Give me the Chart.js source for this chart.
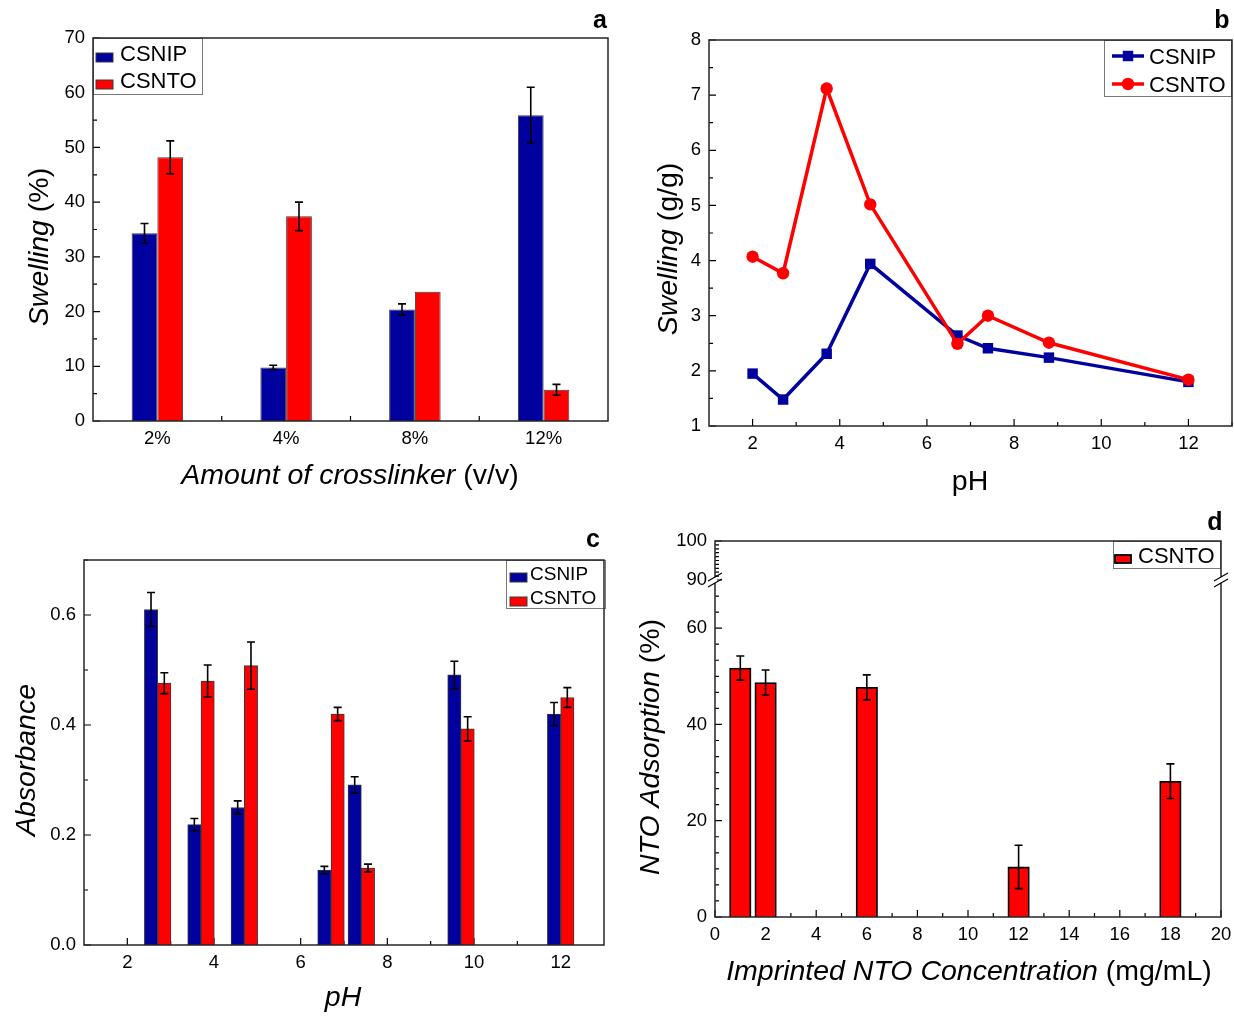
<!DOCTYPE html>
<html>
<head>
<meta charset="utf-8">
<script src="https://cdn.jsdelivr.net/npm/chart.js@4.4.1/dist/chart.umd.min.js"></script>
<style>
  body { margin: 0; background: #fff; }
  #page { position: relative; width: 1234px; height: 1019px; }
  canvas { position: absolute; }
</style>
</head>
<body>
<div id="page">
  <canvas id="chartA" width="617" height="509" style="left:0;top:0"></canvas>
  <canvas id="chartB" width="617" height="509" style="left:617px;top:0"></canvas>
  <canvas id="chartC" width="617" height="510" style="left:0;top:509px"></canvas>
  <canvas id="chartD" width="617" height="510" style="left:617px;top:509px"></canvas>
</div>
<script>
// (a) swelling vs amount of crosslinker
const crosslinker = ['2%', '4%', '8%', '12%'];
const swellNip = [34.3, 9.8, 20.4, 55.9];
const swellNipErr = [1.8, 0.4, 1.0, 5.1];
const swellNto = [48.2, 37.4, 23.6, 5.7];
const swellNtoErr = [3.0, 2.6, null, 1.0];

// (b) swelling vs pH
const phB = [2, 2.7, 3.7, 4.7, 6.7, 7.4, 8.8, 12];
const gNip = [1.95, 1.48, 2.31, 3.94, 2.64, 2.41, 2.24, 1.80];
const gNto = [4.07, 3.77, 7.12, 5.02, 2.49, 3.00, 2.51, 1.84];

// (c) absorbance vs pH
const phC = [2.7, 3.7, 4.7, 6.7, 7.4, 9.7, 12];
const absNip = [0.610, 0.219, 0.250, 0.136, 0.291, 0.491, 0.420];
const absNipErr = [0.031, 0.011, 0.012, 0.007, 0.015, 0.025, 0.021];
const absNto = [0.476, 0.480, 0.508, 0.420, 0.140, 0.393, 0.450];
const absNtoErr = [0.019, 0.029, 0.043, 0.012, 0.007, 0.022, 0.018];

// (d) NTO adsorption vs imprinted NTO concentration
const conc = [1, 2, 6, 12, 18];
const adsNto = [51.7, 48.7, 47.7, 10.4, 28.2];
const adsNtoErr = [2.5, 2.6, 2.6, 4.5, 3.6];

// tick labels
const ticksAy = [0, 10, 20, 30, 40, 50, 60, 70];
const ticksBx = [2, 4, 6, 8, 10, 12];
const ticksBy = [1, 2, 3, 4, 5, 6, 7, 8];
const ticksCx = [2, 4, 6, 8, 10, 12];
const ticksCy = [0, 0.2, 0.4, 0.6];
const ticksDx = [0, 2, 4, 6, 8, 10, 12, 14, 16, 18, 20];
const ticksDy = [0, 20, 40, 60];
const ticksDyTop = [90, 100];

const FONT = "'Liberation Sans', Arial, Helvetica, sans-serif";
const BLUE = '#00009E';
const RED = '#FF0000';
const TICK_SIZE = 18.5;

function range(a, b, step) {
  const out = [];
  for (let v = a; v <= b + 1e-9; v += step) out.push(v);
  return out;
}

function fixTicks(list) {
  return s => { s.ticks = list.map(v => ({ value: v })); };
}

function xAxis(extra, height) {
  return Object.assign({
    grid: { display: false, drawTicks: false },
    border: { display: false },
    ticks: { padding: 7, autoSkip: false, maxRotation: 0, font: { size: TICK_SIZE }, color: '#000' },
    afterFit: s => { s.height = height; s.paddingLeft = 0; s.paddingRight = 0; }
  }, extra);
}

function yAxis(extra, width) {
  return Object.assign({
    grid: { display: false, drawTicks: false },
    border: { display: false },
    ticks: { padding: 8, autoSkip: false, font: { size: TICK_SIZE }, color: '#000' },
    afterFit: s => { s.width = width; s.paddingTop = 0; s.paddingBottom = 0; }
  }, extra);
}

// extra drawing per canvas: inward ticks, frame, titles, legend box, panel letter
const panels = {
  chartA: {
    letter: ['a', 600, 28],
    xTitle: [[['Amount of crosslinker', true], [' (v/v)', false]], 350, 476],
    yTitle: [[['Swelling', true], [' (%)', false]], 40, 247],
    marks: [
      { scale: 'y', values: range(0, 70, 10), len: 7 },
      { scale: 'y', values: range(5, 65, 10), len: 4 },
      { scale: 'x', values: [0.5, 1.5, 2.5], len: 5 }
    ],
    legend: { side: 'left', w: 110, h: 57, rows: [15, 42], sx: 3, sw: 17, sh: 9, tx: 27, size: 22 }
  },
  chartB: {
    letter: ['b', 605, 28],
    xTitle: [[['pH', false]], 353, 482],
    yTitle: [[['Swelling', true], [' (g/g)', false]], 52, 249],
    marks: [
      { scale: 'y', values: range(1, 8, 1), len: 7 },
      { scale: 'y', values: range(1.5, 7.5, 1), len: 4 },
      { scale: 'x', values: range(2, 12, 2), len: 7 },
      { scale: 'x', values: range(3, 13, 2), len: 4 }
    ],
    legend: { side: 'right', w: 128, h: 57, rows: [16, 44], sx: 8, sw: 32, tx: 45, size: 22, line: true }
  },
  chartC: {
    letter: ['c', 593, 38],
    xTitle: [[['pH', true]], 343, 489],
    yTitle: [[['Absorbance', true]], 27, 251],
    marks: [
      { scale: 'y', values: range(0, 0.6, 0.2), len: 7 },
      { scale: 'y', values: range(0.1, 0.7, 0.2), len: 4 },
      { scale: 'x', values: range(2, 12, 2), len: 7 },
      { scale: 'x', values: range(3, 11, 2), len: 4 }
    ],
    legend: { side: 'right', w: 100, h: 49, rows: [13, 37], sx: 4, sw: 17, sh: 9, tx: 24, size: 19, shiftRight: 2 }
  },
  chartD: {
    letter: ['d', 598, 21],
    xTitle: [[['Imprinted NTO Concentration', true], [' (mg/mL)', false]], 352, 463],
    yTitle: [[['NTO Adsorption', true], [' (%)', false]], 34, 238],
    marks: [
      { scale: 'y', values: ticksDy, len: 7 },
      { scale: 'y', values: range(0, 70, 20 / 6), len: 4 },
      { scale: 'yTop', values: ticksDyTop, len: 7 },
      { scale: 'yTop', values: range(91, 99, 1), len: 4 },
      { scale: 'x', values: range(0, 20, 2), len: 7 },
      { scale: 'x', values: range(1, 19, 2), len: 4 }
    ],
    legend: { side: 'right', w: 108, h: 28, rows: [14], sx: 2, sw: 16, sh: 8, tx: 25, size: 22 },
    breakAt: 'y'
  }
};

function setFont(ctx, size, style) {
  ctx.font = (style || 'normal') + ' ' + size + 'px ' + FONT;
}

// text made of italic / upright pieces, centred on the current origin
function drawParts(ctx, parts, size) {
  const widths = parts.map(p => { setFont(ctx, size, p[1] ? 'italic' : ''); return ctx.measureText(p[0]).width; });
  let x = -widths.reduce((a, b) => a + b, 0) / 2;
  parts.forEach((p, i) => {
    setFont(ctx, size, p[1] ? 'italic' : '');
    ctx.fillText(p[0], x, 0);
    x += widths[i];
  });
}

function drawErrorBars(chart) {
  const ctx = chart.ctx;
  ctx.save();
  ctx.strokeStyle = '#000';
  ctx.lineWidth = 1.6;
  chart.data.datasets.forEach((ds, di) => {
    if (!ds.errors) return;
    const meta = chart.getDatasetMeta(di);
    const ys = chart.scales[meta.yAxisID];
    meta.data.forEach((el, i) => {
      const e = ds.errors[i];
      if (!e) return;
      const d = ds.data[i];
      const v = typeof d === 'object' ? d.y : d;
      const top = ys.getPixelForValue(v + e);
      const bot = ys.getPixelForValue(v - e);
      ctx.beginPath();
      ctx.moveTo(el.x, top); ctx.lineTo(el.x, bot);
      ctx.moveTo(el.x - 4, top); ctx.lineTo(el.x + 4, top);
      ctx.moveTo(el.x - 4, bot); ctx.lineTo(el.x + 4, bot);
      ctx.stroke();
    });
  });
  ctx.restore();
}

function drawMarker(ctx, ds, x, y) {
  ctx.fillStyle = ds.pointBackgroundColor || ds.borderColor;
  ctx.beginPath();
  if (ds.pointStyle === 'rect') {
    const h = ds.pointRadius * Math.SQRT1_2;
    ctx.rect(x - h, y - h, 2 * h, 2 * h);
  } else {
    ctx.arc(x, y, ds.pointRadius, 0, Math.PI * 2);
  }
  ctx.fill();
}

function drawLegend(chart, L) {
  const ctx = chart.ctx, a = chart.chartArea;
  const x0 = L.side === 'left' ? a.left : a.right - L.w + (L.shiftRight || 0);
  const y0 = a.top;
  ctx.save();
  ctx.fillStyle = '#fff';
  ctx.fillRect(x0, y0, L.w, L.h);
  ctx.strokeStyle = '#7a7a7a';
  ctx.lineWidth = 1;
  ctx.strokeRect(x0 + 0.5, y0 + 0.5, L.w - 1, L.h - 1);
  chart.data.datasets.forEach((ds, i) => {
    const cy = y0 + L.rows[i];
    if (L.line) {
      ctx.strokeStyle = ds.borderColor;
      ctx.lineWidth = ds.borderWidth;
      ctx.beginPath();
      ctx.moveTo(x0 + L.sx, cy); ctx.lineTo(x0 + L.sx + L.sw, cy);
      ctx.stroke();
      drawMarker(ctx, ds, x0 + L.sx + L.sw / 2, cy);
    } else {
      ctx.fillStyle = ds.backgroundColor;
      ctx.fillRect(x0 + L.sx, cy, L.sw, L.sh);
      ctx.strokeStyle = ds.borderColor;
      ctx.lineWidth = ds.borderWidth;
      ctx.strokeRect(x0 + L.sx, cy, L.sw, L.sh);
    }
    // label sits with its capitals centred on the row
    ctx.fillStyle = '#000';
    setFont(ctx, L.size);
    ctx.textBaseline = 'alphabetic';
    ctx.textAlign = 'left';
    ctx.fillText(ds.label, x0 + L.tx, cy + 0.36 * L.size);
  });
  ctx.restore();
}

function drawBreak(ctx, x, y) {
  ctx.fillStyle = '#fff';
  ctx.fillRect(x - 2, y - 3, 4, 6);
  ctx.strokeStyle = '#000';
  ctx.lineWidth = 1.2;
  ctx.beginPath();
  [-3, 3].forEach(d => {
    ctx.moveTo(x - 7, y + d + 4);
    ctx.lineTo(x + 7, y + d - 4);
  });
  ctx.stroke();
}

const panelPlugin = {
  id: 'panel',
  beforeDatasetsDraw(chart) {
    const p = panels[chart.canvas.id];
    const ctx = chart.ctx, a = chart.chartArea;
    ctx.save();
    ctx.strokeStyle = '#000';
    ctx.lineWidth = 1.2;
    ctx.beginPath();
    p.marks.forEach(m => {
      const s = chart.scales[m.scale];
      m.values.forEach(v => {
        const px = s.getPixelForValue(v);
        if (s.isHorizontal()) {
          ctx.moveTo(px, a.bottom); ctx.lineTo(px, a.bottom - m.len);
        } else {
          ctx.moveTo(a.left, px); ctx.lineTo(a.left + m.len, px);
        }
      });
    });
    ctx.stroke();
    ctx.restore();
  },
  afterDatasetsDraw(chart) {
    const p = panels[chart.canvas.id];
    const ctx = chart.ctx, a = chart.chartArea;
    drawErrorBars(chart);
    drawLegend(chart, p.legend);

    ctx.save();
    ctx.strokeStyle = '#262626';
    ctx.lineWidth = 1.5;
    ctx.strokeRect(a.left, a.top, a.right - a.left, a.bottom - a.top);
    if (p.breakAt) {
      const yb = chart.scales[p.breakAt].top;
      drawBreak(ctx, a.left, yb);
      drawBreak(ctx, a.right, yb);
    }

    ctx.fillStyle = '#000';
    ctx.textAlign = 'left';
    ctx.textBaseline = 'middle';
    ctx.save();
    ctx.translate(p.xTitle[1], p.xTitle[2]);
    drawParts(ctx, p.xTitle[0], 28.5);
    ctx.restore();
    ctx.save();
    ctx.translate(p.yTitle[1], p.yTitle[2]);
    ctx.rotate(-Math.PI / 2);
    drawParts(ctx, p.yTitle[0], 28.5);
    ctx.restore();

    setFont(ctx, 25, 'bold');
    ctx.textAlign = 'center';
    ctx.textBaseline = 'alphabetic';
    ctx.fillText(p.letter[0], p.letter[1], p.letter[2]);
    ctx.restore();
  }
};

Chart.register(panelPlugin);
Chart.defaults.font.family = FONT;
Chart.defaults.color = '#000';

const common = {
  responsive: false,
  animation: false,
  devicePixelRatio: 1,
  plugins: { legend: { display: false }, tooltip: { enabled: false } }
};

// (a)
new Chart(document.getElementById('chartA'), {
  type: 'bar',
  data: {
    labels: crosslinker,
    datasets: [
      { label: 'CSNIP', data: swellNip, errors: swellNipErr, backgroundColor: BLUE, borderColor: '#3a3a3a', borderWidth: 1, categoryPercentage: 0.4, barPercentage: 1 },
      { label: 'CSNTO', data: swellNto, errors: swellNtoErr, backgroundColor: RED, borderColor: '#3a3a3a', borderWidth: 1, categoryPercentage: 0.4, barPercentage: 1 }
    ]
  },
  options: Object.assign({}, common, {
    layout: { autoPadding: false, padding: { top: 38, right: 9, left: 0, bottom: 0 } },
    scales: {
      x: xAxis({ type: 'category', offset: true }, 88),
      y: yAxis({ min: 0, max: 70, afterBuildTicks: fixTicks(ticksAy) }, 93)
    }
  })
});

// (b)
new Chart(document.getElementById('chartB'), {
  type: 'line',
  data: {
    datasets: [
      { label: 'CSNIP', data: phB.map((x, i) => ({ x, y: gNip[i] })), borderColor: BLUE, backgroundColor: BLUE,
        pointBackgroundColor: BLUE, borderWidth: 3.5, pointStyle: 'rect', pointRadius: 7.4, pointBorderWidth: 0, order: 1 },
      { label: 'CSNTO', data: phB.map((x, i) => ({ x, y: gNto[i] })), borderColor: RED, backgroundColor: RED,
        pointBackgroundColor: RED, borderWidth: 3.5, pointStyle: 'circle', pointRadius: 6.2, pointBorderWidth: 0, order: 0 }
    ]
  },
  options: Object.assign({}, common, {
    layout: { autoPadding: false, padding: { top: 40, right: 2, left: 0, bottom: 0 } },
    scales: {
      x: xAxis({ type: 'linear', min: 1, max: 13, afterBuildTicks: fixTicks(ticksBx) }, 83),
      y: yAxis({ type: 'linear', min: 1, max: 8, afterBuildTicks: fixTicks(ticksBy) }, 92)
    }
  })
});

// (c)
const cY = yAxis({ type: 'linear', min: 0, max: 0.7, afterBuildTicks: fixTicks(ticksCy) }, 84);
cY.ticks = Object.assign({}, cY.ticks, { callback: v => v.toFixed(1) });
new Chart(document.getElementById('chartC'), {
  type: 'bar',
  data: {
    datasets: [
      { label: 'CSNIP', data: phC.map((x, i) => ({ x, y: absNip[i] })), errors: absNipErr, backgroundColor: BLUE, borderColor: '#3a3a3a', borderWidth: 1, barThickness: 13.3 },
      { label: 'CSNTO', data: phC.map((x, i) => ({ x, y: absNto[i] })), errors: absNtoErr, backgroundColor: RED, borderColor: '#3a3a3a', borderWidth: 1, barThickness: 13.3 }
    ]
  },
  options: Object.assign({}, common, {
    layout: { autoPadding: false, padding: { top: 51, right: 13, left: 0, bottom: 0 } },
    scales: {
      x: xAxis({ type: 'linear', min: 1, max: 13, offset: false, afterBuildTicks: fixTicks(ticksCx) }, 74),
      y: cY
    }
  })
});

// (d) broken y axis: 90-100 stacked on top of 0-70
new Chart(document.getElementById('chartD'), {
  type: 'bar',
  data: {
    datasets: [
      { label: 'CSNTO', data: conc.map((x, i) => ({ x, y: adsNto[i] })), errors: adsNtoErr, backgroundColor: RED, borderColor: '#000', borderWidth: 1.8, barThickness: 21.5, yAxisID: 'y' }
    ]
  },
  options: Object.assign({}, common, {
    layout: { autoPadding: false, padding: { top: 32, right: 13, left: 0, bottom: 0 } },
    scales: {
      x: xAxis({ type: 'linear', min: 0, max: 20, offset: false, afterBuildTicks: fixTicks(ticksDx) }, 102),
      y: yAxis({ type: 'linear', position: 'left', stack: 'ads', stackWeight: 8.64, min: 0, max: 70, afterBuildTicks: fixTicks(ticksDy) }, 98),
      yTop: yAxis({ type: 'linear', position: 'left', stack: 'ads', stackWeight: 1, min: 90, max: 100, afterBuildTicks: fixTicks(ticksDyTop) }, 98)
    }
  })
});
</script>
</body>
</html>
